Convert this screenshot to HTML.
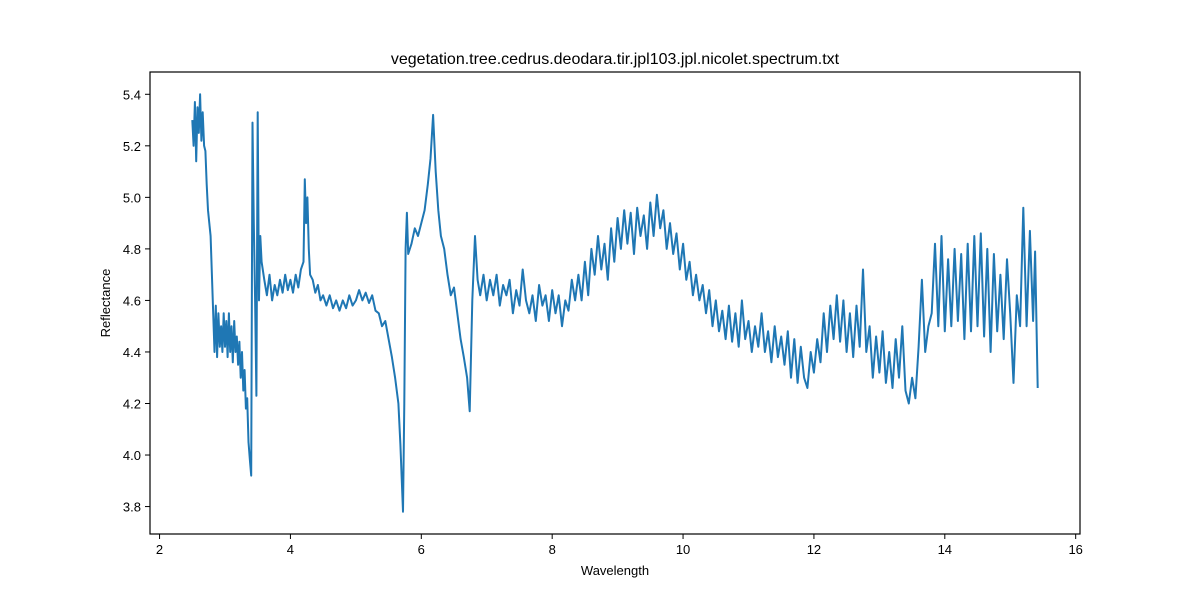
<!DOCTYPE html>
<html><head><meta charset="utf-8"><style>
body{margin:0;background:#fff;font-family:"Liberation Sans","DejaVu Sans",sans-serif;}
</style></head><body>
<svg width="1200" height="600" xmlns="http://www.w3.org/2000/svg">
<rect width="1200" height="600" fill="#fff"/>
<text x="615" y="64" text-anchor="middle" font-size="16" fill="#000">vegetation.tree.cedrus.deodara.tir.jpl103.jpl.nicolet.spectrum.txt</text>
<g id="xt"></g>
<g id="yt"></g>
<path id="line" fill="none" stroke="#1f77b4" stroke-width="2" stroke-linejoin="round"/>
<rect x="150" y="72" width="930" height="462" fill="none" stroke="#000" stroke-width="1.2"/>
<text x="615" y="575" text-anchor="middle" font-size="13">Wavelength</text>
<text x="0" y="0" transform="translate(110,303) rotate(-90)" text-anchor="middle" font-size="13">Reflectance</text>
</svg>
<script>
const xTicks=[2,4,6,8,10,12,14,16];
const yTicks=[3.8,4.0,4.2,4.4,4.6,4.8,5.0,5.2,5.4];
const wl=[2.5,2.52,2.54,2.56,2.58,2.6,2.62,2.64,2.66,2.68,2.7,2.72,2.74,2.76,2.78,2.8,2.82,2.84,2.86,2.88,2.9,2.92,2.94,2.96,2.98,3.0,3.02,3.04,3.06,3.08,3.1,3.12,3.14,3.16,3.18,3.2,3.22,3.24,3.26,3.28,3.3,3.32,3.34,3.36,3.38,3.40,3.42,3.44,3.46,3.48,3.5,3.52,3.54,3.56,3.6,3.64,3.68,3.72,3.76,3.8,3.84,3.88,3.92,3.96,4.0,4.04,4.08,4.12,4.16,4.2,4.22,4.24,4.26,4.28,4.3,4.34,4.38,4.42,4.46,4.5,4.55,4.6,4.65,4.7,4.75,4.8,4.85,4.9,4.95,5.0,5.05,5.1,5.15,5.2,5.25,5.3,5.35,5.4,5.45,5.5,5.55,5.6,5.65,5.68,5.72,5.74,5.76,5.78,5.8,5.85,5.9,5.95,6.0,6.05,6.1,6.14,6.18,6.22,6.26,6.3,6.35,6.4,6.45,6.5,6.55,6.6,6.65,6.7,6.74,6.78,6.82,6.86,6.9,6.95,7.0,7.05,7.1,7.15,7.2,7.25,7.3,7.35,7.4,7.45,7.5,7.55,7.6,7.65,7.7,7.75,7.8,7.85,7.9,7.95,8.0,8.05,8.1,8.15,8.2,8.25,8.3,8.35,8.4,8.45,8.5,8.55,8.6,8.65,8.7,8.75,8.8,8.85,8.9,8.95,9.0,9.05,9.1,9.15,9.2,9.25,9.3,9.35,9.4,9.45,9.5,9.55,9.6,9.65,9.7,9.75,9.8,9.85,9.9,9.95,10.0,10.05,10.1,10.15,10.2,10.25,10.3,10.35,10.4,10.45,10.5,10.55,10.6,10.65,10.7,10.75,10.8,10.85,10.9,10.95,11.0,11.05,11.1,11.15,11.2,11.25,11.3,11.35,11.4,11.45,11.5,11.55,11.6,11.65,11.7,11.75,11.8,11.85,11.9,11.95,12.0,12.05,12.1,12.15,12.2,12.25,12.3,12.35,12.4,12.45,12.5,12.55,12.6,12.65,12.7,12.75,12.8,12.85,12.9,12.95,13.0,13.05,13.1,13.15,13.2,13.25,13.3,13.35,13.4,13.45,13.5,13.55,13.6,13.65,13.7,13.75,13.8,13.85,13.9,13.95,14.0,14.05,14.1,14.15,14.2,14.25,14.3,14.35,14.4,14.45,14.5,14.55,14.6,14.65,14.7,14.75,14.8,14.85,14.9,14.95,15.0,15.05,15.1,15.15,15.2,15.25,15.3,15.35,15.38,15.42];
const refl=[5.3,5.2,5.37,5.14,5.35,5.25,5.4,5.22,5.33,5.2,5.18,5.05,4.95,4.9,4.85,4.7,4.55,4.4,4.58,4.38,4.55,4.42,4.5,4.4,4.55,4.42,4.52,4.38,4.55,4.4,4.5,4.36,4.52,4.4,4.46,4.35,4.44,4.3,4.4,4.25,4.33,4.18,4.22,4.05,3.98,3.92,5.29,4.9,4.6,4.23,5.33,4.6,4.85,4.75,4.68,4.62,4.7,4.6,4.66,4.62,4.68,4.63,4.7,4.64,4.68,4.63,4.7,4.65,4.72,4.75,5.07,4.9,5.0,4.8,4.7,4.68,4.63,4.66,4.6,4.62,4.58,4.62,4.57,4.6,4.56,4.6,4.57,4.62,4.58,4.6,4.64,4.6,4.63,4.59,4.62,4.56,4.55,4.5,4.52,4.45,4.38,4.3,4.2,4.04,3.78,4.2,4.8,4.94,4.78,4.82,4.88,4.85,4.9,4.95,5.05,5.15,5.32,5.1,4.95,4.85,4.8,4.7,4.62,4.65,4.55,4.45,4.38,4.3,4.17,4.6,4.85,4.68,4.62,4.7,4.6,4.68,4.62,4.7,4.58,4.66,4.62,4.68,4.55,4.64,4.58,4.72,4.6,4.55,4.62,4.52,4.66,4.58,4.62,4.52,4.64,4.55,4.62,4.5,4.6,4.56,4.68,4.6,4.7,4.6,4.75,4.62,4.8,4.7,4.85,4.72,4.82,4.68,4.88,4.75,4.92,4.8,4.95,4.82,4.94,4.78,4.96,4.85,4.93,4.8,4.98,4.85,5.01,4.88,4.95,4.8,4.9,4.78,4.86,4.72,4.82,4.68,4.75,4.62,4.7,4.6,4.66,4.55,4.64,4.5,4.6,4.48,4.56,4.45,4.58,4.44,4.55,4.42,4.6,4.45,4.52,4.4,4.5,4.42,4.55,4.4,4.48,4.36,4.5,4.38,4.46,4.35,4.48,4.3,4.45,4.28,4.42,4.3,4.26,4.4,4.32,4.45,4.36,4.55,4.4,4.58,4.45,4.62,4.44,4.6,4.4,4.55,4.38,4.58,4.42,4.72,4.4,4.5,4.3,4.46,4.32,4.48,4.28,4.4,4.26,4.45,4.3,4.5,4.25,4.2,4.3,4.22,4.42,4.68,4.4,4.5,4.55,4.82,4.5,4.85,4.48,4.76,4.5,4.8,4.52,4.78,4.45,4.82,4.48,4.85,4.5,4.86,4.46,4.8,4.4,4.78,4.48,4.7,4.45,4.76,4.55,4.28,4.62,4.5,4.96,4.5,4.87,4.52,4.79,4.26];
const L=150,R=1080,T=72,B=534,XMIN=1.854,XMAX=16.066,YMIN=3.6935,YMAX=5.4865;
const sx=v=>L+(v-XMIN)/(XMAX-XMIN)*(R-L);
const sy=v=>B-(v-YMIN)/(YMAX-YMIN)*(B-T);
const NS="http://www.w3.org/2000/svg";
const xg=document.getElementById('xt'),yg=document.getElementById('yt');
xTicks.forEach(t=>{
 const l=document.createElementNS(NS,'line');
 l.setAttribute('x1',sx(t));l.setAttribute('x2',sx(t));l.setAttribute('y1',B);l.setAttribute('y2',B+5);l.setAttribute('stroke','#000');
 
 
 xg.appendChild(l);
 const s=document.createElementNS(NS,'text');
 s.setAttribute('x',sx(t));s.setAttribute('y',B+20);s.setAttribute('text-anchor','middle');s.setAttribute('font-size','13');
 s.textContent=String(t);
 
 
 xg.appendChild(s);
});
yTicks.forEach(t=>{
 const l=document.createElementNS(NS,'line');
 l.setAttribute('x1',L-5);l.setAttribute('x2',L);l.setAttribute('y1',sy(t));l.setAttribute('y2',sy(t));l.setAttribute('stroke','#000');
 
 
 yg.appendChild(l);
 const s=document.createElementNS(NS,'text');
 s.setAttribute('x',L-9);s.setAttribute('y',sy(t)+5);s.setAttribute('text-anchor','end');s.setAttribute('font-size','13');
 s.textContent=t.toFixed(1);
 
 
 yg.appendChild(s);
});
document.getElementById('line').setAttribute('d',wl.map((w,i)=>(i?'L':'M')+sx(w).toFixed(1)+' '+sy(refl[i]).toFixed(1)).join(' '));
</script>
</body></html>
